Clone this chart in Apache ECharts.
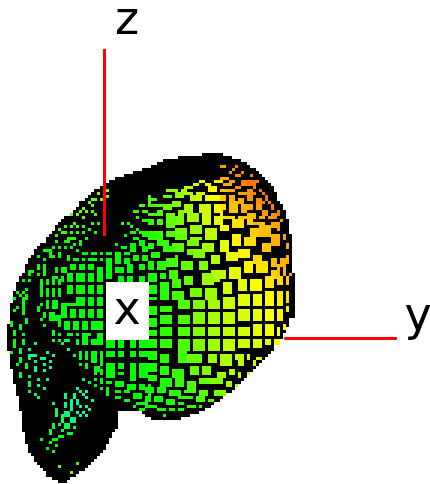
<!DOCTYPE html>
<html>
<head>
<meta charset="utf-8">
<title>surface</title>
<script src="https://cdn.jsdelivr.net/npm/echarts@6/dist/echarts.min.js"></script>
<style>html,body{margin:0;padding:0;background:#fff}#chart{width:430px;height:484px}</style>
</head>
<body>
<div id="chart"></div>
<script>
var firstRow = 51;
var leftEdge = [67,59,54,52,50,47,44,41,38,36,35,33,31,30,29,28,26,26,25,24,23,21,20,19,18,18,17,16,15,15,
  13,12,11,11,10,9,9,8,8,8,7,6,6,5,5,5,4,4,4,4,3,3,3,3,3,3,3,2,2,2,2,2,2,2,2,2,3,3,3,3,3,3,4,4,4,4,4,
  5,5,5,5,6,6,6,6,6,7,7,7,7,7,7,7,8,8,8,8,9,9,9,10,11,11,12,13,14,15,15,17,19];
var rightEdge = [74,77,80,82,83,85,86,87,88,89,90,91,91,92,92,92,93,94,94,95,95,95,96,96,96,96,96,97,97,97,
  97,97,97,97,97,97,97,97,97,97,98,98,98,98,98,98,98,98,98,98,98,98,98,98,98,96,96,96,95,95,94,94,93,92,91,
  91,90,89,88,87,86,85,84,83,82,81,80,79,78,77,75,74,73,71,70,68,39,39,39,39,39,39,38,37,37,36,36,35,35,34,
  33,32,31,30,29,28,26,25,23,22];
var bottomSpans = [[137,47,66],[138,48,63],[139,50,60]];

var zAxisLine = [[34.5,16.3],[34.5,78.7]];
var yAxisLine = [[94.4,112.83],[132,112.83]];

// x, y, w, h, colour level (0 aqua, 30 green, 70 yellow, 100 orange)
var cellsLobe = [
[11,114,1,1,14],[6,116,1,2,24],[3,117,1,1,26],[9,116,1,1,14],[9,118,2,1,14],[11,118,1,1,14],[13,119,2,1,12],
[15,117,1,1,8],[17,118,1,1,8],[6,119,1,2,24],[9,119,1,1,20],[11,120,1,1,14],[16,120,1,1,8],[5,121,1,1,24],[8,121,1,2,22],[11,122,1,2,12],
[14,121,1,1,10],[14,123,1,1,10],[16,122,1,1,8],[6,124,1,2,24],[9,125,1,1,20],[12,126,1,1,12],[15,126,1,1,10],[9,127,1,2,22],[12,128,1,1,14],
[14,129,1,1,12],[9,130,1,1,22],[11,131,1,1,20],[12,132,1,1,20],[25,129,1,1,6],[26,130,1,1,6],[28,130,1,1,6],[27,131,1,1,6],[24,131,1,2,10],
[21,131,1,2,16],[25,133,1,2,8],[28,132,1,1,6],[30,133,1,1,8],[23,133,1,2,12],[21,134,1,2,16],[17,134,1,1,16],[26,135,1,1,8],[28,135,1,1,8],
[29,136,1,1,8],[25,137,1,1,8],[27,137,1,1,8],[28,138,1,1,8],[26,138,1,1,10],[23,135,1,2,12],[21,137,2,2,16],[18,136,1,3,18],[20,138,1,3,18],
[23,139,2,2,16],[21,141,2,2,20],[19,141,1,1,20],[17,141,1,2,22],[24,142,1,1,18],[20,143,1,1,22],[16,143,1,2,24],[22,144,2,1,24],[19,145,2,1,26],
[17,146,2,1,28],[13,146,1,1,28],[16,147,1,1,28],[18,148,1,1,30],[15,149,1,1,30],[17,150,1,1,32],[19,155,1,1,44],[25,154,1,1,40],[23,157,1,1,48]
];
var cellsLeft = [
[22,91,2,3,30],[25,91,3,3,30],[29,91,2,3,30],[32,91,2,3,30],[9,90,1,2,30],[12,91,1,1,30],[14,91,1,1,30],[7,93,1,1,30],[9,93,1,1,30],
[13,93,1,6,28],[15,93,1,2,30],[17,92,1,3,30],[18,92,1,1,30],[19,93,1,2,30],[20,92,1,2,30],[8,96,1,1,30],[5,97,1,1,30],[7,97,1,1,30],[6,98,1,1,30],[8,98,1,2,30],
[15,96,1,3,30],[17,96,1,3,30],[19,96,1,3,30],[22,95,2,3,30],[25,95,3,3,30],[29,95,2,3,30],[32,95,2,3,30],[4,99,1,1,28],[7,99,1,2,28],[13,101,1,1,28],
[15,100,1,3,28],[17,100,2,3,28],[20,101,2,3,29],[22,101,3,1,30],[25,99,3,3,30],[29,99,2,3,30],[32,99,2,3,30],[7,101,1,3,27],[5,102,1,1,27],[4,103,1,1,27],[12,102,1,2,27],
[14,104,1,2,27],[16,104,2,3,28],[18,105,2,2,28],[20,104,2,2,29],[23,103,2,3,30],[26,103,2,3,30],[29,103,2,3,30],[32,103,2,3,30],[7,104,1,1,26],[8,106,1,2,26],[13,106,1,1,26],
[3,107,1,2,26],[6,108,1,2,26],[14,108,1,1,26],[17,110,1,1,26],[19,107,1,2,27],[21,107,2,3,28],[24,107,2,3,29],[27,107,2,3,30],[30,107,2,3,30],[32,107,2,3,30],
[4,110,1,2,26],[7,111,1,1,26],[17,111,1,1,24],[19,111,1,1,25],[22,111,2,1,26],[25,111,1,1,26],[27,111,2,2,28],[29,111,1,1,28],[32,111,2,2,30],[4,113,1,3,26],[7,113,1,2,26],
[17,113,1,1,18],[19,113,1,1,22],[22,113,1,1,24],[25,113,1,2,26],[27,113,2,2,28],[30,113,3,2,28],[33,113,1,2,30],[21,113,1,1,22],[20,114,1,1,22],
[30,117,2,2,28],[28,117,1,2,26],[26,117,1,2,26],[33,117,1,2,30],[22,116,1,1,20],
[24,118,1,1,20],[30,119,2,2,28],[33,119,1,3,30],[28,119,1,1,26],[26,119,1,1,24],[26,121,1,1,24],[28,121,1,2,26],[31,122,2,2,28],[31,124,1,1,28],
[33,123,1,2,30],[27,126,1,1,24],[29,127,1,1,26],[31,126,1,1,26],[33,126,1,2,28],[31,128,1,1,28],[33,129,1,1,28],
[35,91,2,2,30],[35,88,2,3,30],[38,89,3,2,30],[39,92,2,2,30],[42,88,2,3,30],[42,92,2,2,30],
[46,88,2,2,32],[46,92,2,2,32],
[20,89,2,2,30],[23,88,2,2,30],[26,88,2,2,30],[29,88,2,2,30],[32,89,2,2,30],[35,86,2,2,30],[38,84,2,2,30],[38,86,2,2,30],[41,84,2,1,30],[41,86,2,2,30],
[44,85,2,2,32],[47,85,2,2,33],[27,84,2,1,30],[30,84,2,1,30],[33,84,1,1,30],[35,84,2,1,30],[24,86,2,1,32],[27,86,1,1,32],[29,86,3,1,30],[33,86,1,1,30],
[22,86,1,1,32],[18,89,1,2,32],[12,88,1,2,32],[14,88,1,2,32],[16,85,2,1,32],[14,90,1,1,32],[10,90,1,1,32],[12,85,1,1,32],[14,86,1,1,32],[16,83,1,2,32],
[15,83,1,1,32],[19,84,1,2,32],[22,85,1,1,32],[14,83,1,1,32],[17,82,1,1,34],[19,82,1,1,34],[21,82,1,1,30],[23,82,1,1,30],[25,83,1,1,24],
[18,78,1,1,38],[20,77,2,1,38],[23,77,1,1,38],[25,77,1,1,36],[27,77,1,1,36],[29,76,1,1,36],[31,77,1,1,34],[19,76,1,1,44],[21,75,1,1,42],[23,75,1,1,42],
[25,75,1,1,40],[27,75,1,1,40],[30,74,1,1,38],[32,74,1,1,36],[24,74,1,1,42],[23,71,1,1,46],[25,71,1,1,46],[27,72,1,1,44],[31,71,1,1,40],[26,70,1,1,48],
[27,69,1,1,48],[28,70,1,1,46],[30,70,1,1,42],[30,68,1,1,46],[29,67,1,1,48],[31,66,1,1,46],[32,64,1,1,50],[30,66,1,1,50],[33,66,1,1,48],[35,63,1,1,50],
[35,65,1,1,50],[22,79,2,1,36],[24,79,1,1,36],[26,80,1,1,34],[28,79,1,1,34],[18,80,1,1,34],[21,80,2,1,34],[24,81,1,1,32],[26,81,1,1,28],
[40,74,1,1,36],[42,74,1,1,36],[46,68,2,1,40],[44,70,2,1,38],[47,70,2,1,40],[45,72,1,1,36],[47,73,2,1,36],[43,75,1,1,34],[43,77,2,1,34],[45,76,1,1,34],
[46,77,3,1,36],[41,78,1,1,32],[44,79,2,1,32],[47,78,2,1,34],[38,81,1,1,30],[40,82,2,1,30],[43,81,2,2,30],[46,80,2,2,32],[43,83,2,1,30],[47,82,2,2,32],[49,67,1,1,42]
];
var cellsLower = [
[35,113,3,3,30],[39,113,2,3,30],[43,113,2,3,30],[46,113,3,3,30],[35,117,3,2,30],[39,117,2,2,30],[43,117,2,2,30],[46,117,3,2,31],
[35,121,3,3,30],[39,121,2,2,30],[43,121,2,3,30],[46,121,3,3,31],[35,124,3,2,30],[39,124,2,1,30],[43,124,2,3,30],[46,124,3,2,31],
[35,127,2,1,30],[38,127,3,2,30],[42,128,3,2,30],[46,128,2,2,31],[49,128,1,2,32],[35,129,1,2,30],[38,130,2,1,30],[41,130,2,1,30],[44,131,3,2,30],
[49,131,1,1,32],[38,132,2,1,30],[41,133,2,1,30],[45,134,2,1,30],[48,135,2,1,32],[44,135,1,1,30],[47,136,1,1,30],[35,131,1,1,30],
[49,113,3,3,35],[53,113,4,3,37],[59,113,4,4,42],[64,113,4,4,50],[69,113,4,4,55],[74,113,4,4,59],[79,113,4,3,62],[84,113,3,3,64],[88,113,2,2,66],[91,113,2,2,68],
[49,110,3,2,35],[53,109,4,3,37],[59,109,4,3,42],[64,109,4,3,50],[69,109,4,3,56],[74,109,4,3,60],[79,109,4,3,63],[84,108,3,4,66],[88,108,3,4,68],[92,109,1,3,70],[94,108,1,2,72],
[49,106,3,3,35],[53,105,4,3,37],[59,105,4,3,42],[64,104,4,4,50],[69,104,4,4,56],[74,104,4,4,60],[79,103,4,4,64],[84,103,3,4,67],[88,103,3,4,70],[92,103,2,4,72],[95,102,1,2,74],
[49,102,3,3,35],[53,102,4,2,37],[59,100,4,3,42],[64,100,4,3,50],[69,100,4,3,56],[74,99,4,4,61],[79,98,4,4,65],[84,98,3,4,68],[88,97,3,5,71],[92,97,2,5,74],[95,97,1,4,77],
[49,99,3,1,35],
[49,117,3,3,35],[53,118,3,3,36],[59,117,3,4,40],[62,118,5,3,46],[69,118,3,3,53],[73,118,4,4,57],[78,118,3,2,60],[79,120,2,2,60],[82,118,1,2,62],[84,120,1,2,62],[85,119,2,1,64],
[49,121,3,3,34],[53,122,3,3,36],[57,123,4,3,38],[63,122,3,3,46],[67,122,3,3,50],[72,124,3,2,55],[76,123,2,2,58],[79,124,1,2,60],[82,124,1,1,62],
[49,125,3,2,34],[53,126,4,3,35],[58,126,3,3,38],[62,127,3,3,42],[66,126,4,2,46],[70,126,4,2,50],[75,127,2,2,55],[78,128,1,1,58],
[48,129,3,2,32],[52,129,3,2,34],[56,130,4,2,36],[61,130,4,1,40],[66,130,3,2,44],[71,130,2,2,48],[73,130,2,2,50],
[48,132,2,2,32],[51,132,3,2,33],[55,133,3,2,35],[59,132,5,1,37],[65,132,3,2,42],[69,133,2,1,44],
[47,134,2,1,32],[50,135,2,1,32],[52,136,3,1,34],[56,136,2,1,34],[59,134,2,1,36],[62,135,3,1,38],[66,135,1,1,40],[46,136,1,1,32],[54,138,1,1,34],[59,136,2,1,36]
];
var cellsUpperMid = [
[49,65,1,1,40],[55,63,4,1,52],[60,63,2,1,56],[61,62,3,1,60],[64,61,2,1,64],[66,60,2,1,68],[61,64,3,1,58],[65,64,3,1,62],[69,62,3,2,70],[71,60,3,1,74],[68,61,2,1,70],
[49,66,3,1,42],[54,65,3,1,46],[58,64,3,2,52],[63,65,4,2,60],[68,65,5,2,68],
[49,68,2,1,40],[51,68,3,1,42],[54,68,3,2,46],[57,67,3,2,50],[61,68,3,3,56],[66,68,4,3,62],[71,68,3,3,68],
[49,71,3,1,40],[52,70,2,2,42],[55,71,3,2,46],[59,70,2,2,50],[62,71,4,3,56],[67,71,3,4,62],[71,72,3,3,66],
[49,73,2,2,38],[52,73,2,2,40],[55,73,3,3,44],[58,72,3,3,48],[58,76,4,2,48],[63,75,4,3,54],[68,76,4,3,60],
[49,77,2,3,36],[51,77,3,3,38],[55,77,3,2,42],[58,78,4,2,46],[63,79,4,1,52],[68,79,4,1,58],
[49,81,2,2,36],[52,80,4,2,38],[57,81,4,3,44],[62,80,4,2,48],[67,81,4,3,56],
[50,84,3,2,35],[54,82,4,2,38],[62,83,2,2,46],[64,83,4,3,50],[70,85,3,3,58],[58,85,1,1,40],
[49,87,2,3,34],[52,87,3,3,36],[55,86,4,3,40],[60,87,4,3,45],[66,87,3,3,50],[70,90,3,4,58],
[49,91,3,3,34],[53,91,2,2,36],[56,90,3,3,40],[61,92,3,3,46],[67,91,4,4,54],
[49,95,3,3,34],[53,94,3,3,36],[57,93,3,3,40],[63,96,4,3,48],[68,96,4,4,54],
[53,97,3,3,36],[57,97,4,3,41]
];
var cellsUpperRight = [
[73,55,2,1,90],[78,55,1,1,96],[77,56,1,1,94],[76,57,1,1,94],[78,58,2,1,96],[80,57,1,1,98],[73,59,3,1,88],[76,60,2,1,90],[80,60,2,2,96],[82,60,3,2,98],
[85,60,1,1,98],[83,58,1,1,98],[81,61,1,1,96],[78,62,2,1,94],[74,61,3,1,88],[84,62,1,1,98],
[73,63,3,1,84],[76,63,2,1,88],[79,64,3,1,90],[82,63,2,2,94],[86,63,1,1,98],[87,64,1,1,98],[84,64,1,1,96],
[76,65,2,2,86],[73,65,2,2,82],[79,66,2,2,88],[82,65,2,2,92],[85,66,2,2,94],[88,65,1,2,98],[87,67,1,1,96],[89,67,1,1,98],
[73,68,2,2,76],[76,67,3,4,82],[80,68,2,3,86],[82,68,2,2,88],[85,68,2,2,90],[87,70,2,2,92],[90,68,1,2,96],[92,70,1,2,98],[90,71,2,1,94],
[73,70,1,3,74],[74,72,4,1,78],[79,72,3,1,82],[82,71,3,2,84],[86,72,2,1,88],[89,72,2,1,92],[91,72,1,1,94],
[73,75,3,2,72],[77,73,4,3,76],[82,73,2,2,80],[84,74,4,1,84],[83,76,3,3,80],[86,75,4,4,84],[90,74,2,2,88],[92,74,1,3,90],[93,73,1,1,92],
[73,80,3,4,66],[77,78,3,4,72],[81,79,4,3,76],[87,81,3,3,82],[90,78,3,4,86],[94,78,1,2,90],[95,81,1,2,88],
[75,84,4,3,66],[79,83,4,3,72],[84,85,3,3,78],[90,86,2,3,84],[93,86,2,3,86],[95,85,1,2,88],
[73,90,2,3,60],[76,89,4,4,66],[81,87,3,4,72],[85,87,4,4,76],[90,90,2,3,80],[92,88,1,4,84],[94,89,1,3,86],[95,87,1,1,88],[96,91,1,1,88],
[74,94,3,4,62],[79,93,3,4,65],[83,93,4,4,70],[88,92,3,4,75],[92,92,2,3,78],[95,92,1,3,80]
];

var labels = [['x', 42, 104], ['z', 42, 7.3], ['y', 139, 106]];

var silhouette = [];
for (var i = 0; i < leftEdge.length; i++) {
  silhouette.push([leftEdge[i], firstRow + i, rightEdge[i] - leftEdge[i], 1]);
}
bottomSpans.forEach(function (s) { silhouette.push([s[1], s[0], s[2] - s[1], 1]); });

function drawBlock(params, api) {
  var a = api.coord([api.value(0), api.value(1)]);
  var b = api.coord([api.value(0) + api.value(2), api.value(1) + api.value(3)]);
  return {
    type: 'rect',
    shape: {x: a[0], y: a[1], width: b[0] - a[0], height: b[1] - a[1]},
    style: {fill: api.visual('color')}
  };
}

var cells = cellsLobe.concat(cellsLeft, cellsLower, cellsUpperMid, cellsUpperRight);
var enc = {x: [0, 2], y: [1, 3]};
var red = {color: '#ff0000', width: 3, cap: 'butt'};

var chart = echarts.init(document.getElementById('chart'), null, {renderer: 'canvas'});
chart.setOption({
  animation: false,
  backgroundColor: '#fff',
  grid: {left: 0, right: 0, top: 0, bottom: 0},
  xAxis: {type: 'value', min: -1 / 3, max: 143, show: false},
  yAxis: {type: 'value', min: 0, max: 484 / 3, inverse: true, show: false},
  visualMap: {
    show: false, seriesIndex: 1, dimension: 4, min: 0, max: 100,
    inRange: {color: ['#00ffd0', '#00ffa0', '#00ff50', '#00ff00', '#40ff00', '#80ff00', '#c0ff00', '#ffff00', '#ffd000', '#ffa000', '#ff7000']}
  },
  series: [
    {type: 'custom', renderItem: drawBlock, data: silhouette, encode: enc, itemStyle: {color: '#000'}, silent: true},
    {type: 'custom', renderItem: drawBlock, data: cells, encode: enc, silent: true},
    {type: 'line', data: zAxisLine, symbol: 'none', lineStyle: red, silent: true, z: 5},
    {type: 'line', data: yAxisLine, symbol: 'none', lineStyle: red, silent: true, z: 5},
    {
      type: 'custom', data: labels, silent: true, z: 6,
      dimensions: [{name: 't', type: 'ordinal'}, 'x', 'y'],
      encode: {x: 1, y: 2},
      renderItem: function (params, api) {
        var p = api.coord([api.value(1), api.value(2)]);
        var children = [];
        if (params.dataIndex === 0) {
          children.push({type: 'rect', shape: {x: 106, y: 282, width: 43, height: 58}, style: {fill: '#fff'}});
        }
        children.push({type: 'text', style: {text: labels[params.dataIndex][0], x: p[0], y: p[1], align: 'center', verticalAlign: 'middle',
          font: '46px "DejaVu Sans"', fill: '#000'}});
        return {type: 'group', children: children};
      }
    }
  ]
});
</script>
</body>
</html>
